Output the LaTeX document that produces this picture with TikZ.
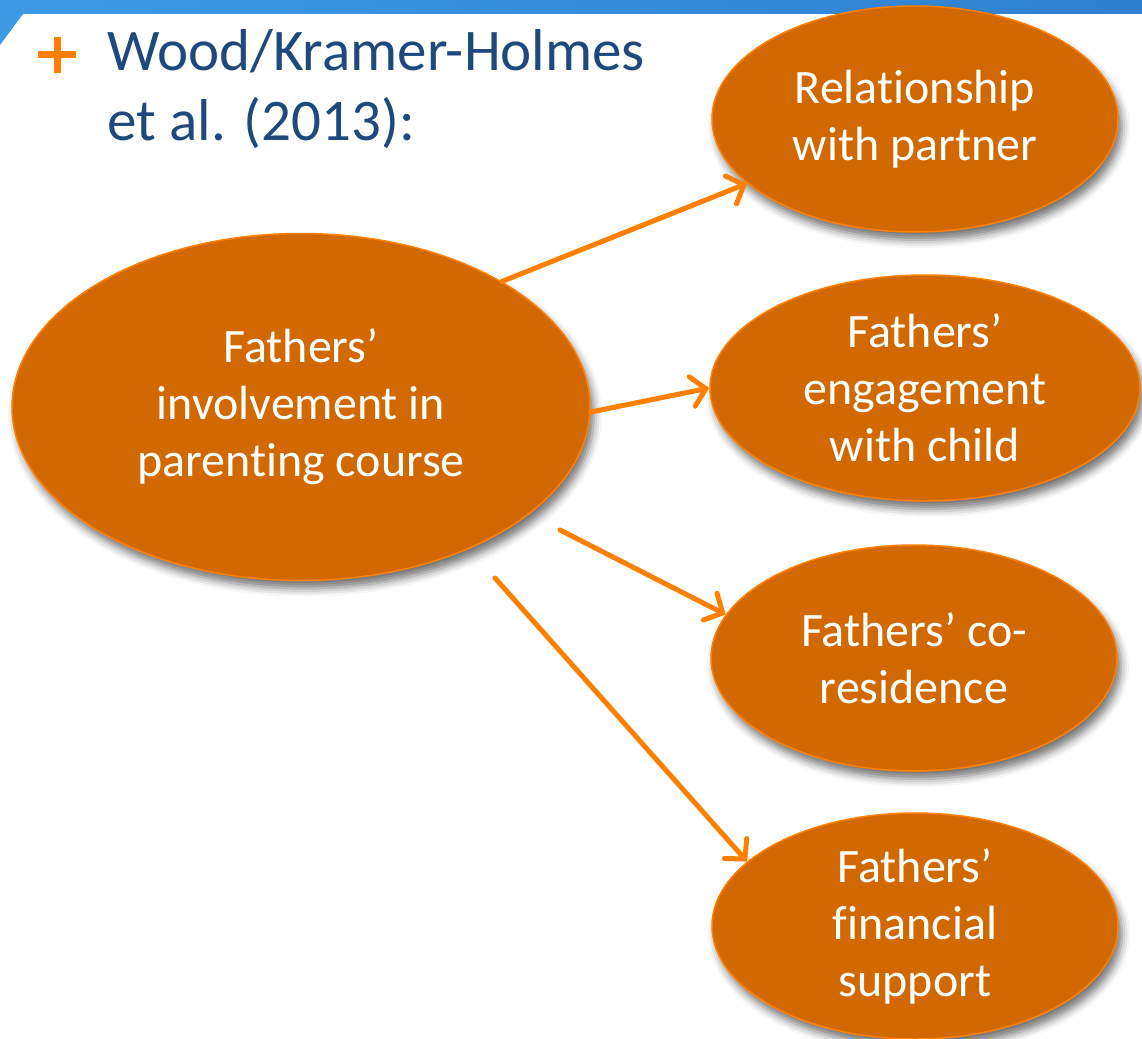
\documentclass[tikz,border=0pt]{standalone}
\usepackage{fontspec}
\setmainfont[Ligatures=NoCommon]{Carlito}
\usetikzlibrary{shapes,arrows.meta,shadows.blur}
\definecolor{barblue}{HTML}{3C9AE4}
\definecolor{bardark}{HTML}{2F80CE}
\definecolor{titleblue}{HTML}{1F497D}
\definecolor{bubblefill}{HTML}{D26900}
\definecolor{linkorange}{HTML}{FF8000}

\begin{document}
\begin{tikzpicture}[x=1pt,y=-1pt]%
\tikzstyle{bubble} = [ellipse, draw=linkorange, line width=1.5pt, fill=bubblefill,
    text=white, align=center, inner sep=-25pt,
    minimum width=406pt, minimum height=226pt,
    font=\fontsize{48}{57}\selectfont,
    blur shadow={shadow xshift=4pt, shadow yshift=-8pt,
      shadow blur radius=8pt, shadow opacity=55}]
\tikzstyle{link} = [draw=linkorange, line width=5pt, line cap=round,
    -{Straight Barb[length=14pt, width=30pt, line cap=round]}]

\useasboundingbox (0,0) rectangle (1142,1038);
\clip (0,0) rectangle (1142,1038);

% slide header
\shade[left color=barblue, right color=bardark] (0,0) rectangle (1142,14);
\fill[barblue] (0,14) -- (23,14) -- (0,45) -- cycle;

\draw[linkorange, line width=7pt] (38,55) -- (76,55) (57,37) -- (57,73);
\node[titleblue, font=\fontsize{59}{70}\selectfont, align=left,
    anchor=north west, inner sep=0pt] (title) at (107,29)
    {Wood/Kramer-Holmes\\et al. (2013):};

\node[bubble, minimum width=578pt, minimum height=347pt] (course) at (301,407)
    {Fathers’\\involvement in\\parenting course};
\node[bubble] (partner) at (915,119) {Relationship\\with partner};
\node[bubble, minimum width=430pt] (engage) at (925,388)
    {Fathers’\\engagement\\with child};
\node[bubble] (home) at (914,658) {Fathers’ co-\\residence};
\node[bubble] (support) at (915,926) {Fathers’\\financial\\support};

\coordinate (fork3) at (560,530);
\coordinate (fork4) at (495,578);

\draw[link] (course.32) -- (partner.201);
\draw[link] (course.-1) -- (engage.west);
\draw[link] (fork3) -- (home.167);
\draw[link] (fork4) -- (support.159);
\end{tikzpicture}
\end{document}
